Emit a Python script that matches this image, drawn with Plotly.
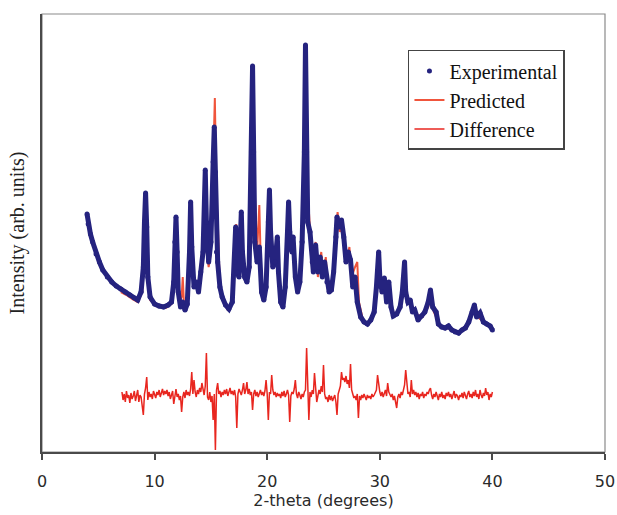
import numpy as np
import plotly.graph_objects as go

# experimental pattern (2-theta in degrees, intensity in arb. units)
exp_tth = [4.0, 4.1, 4.3, 4.5, 4.8, 5.1, 5.4, 5.8, 6.2, 6.6, 7.0, 7.4, 7.8, 8.2, 8.5, 8.8,
           9.0, 9.1, 9.2, 9.3, 9.4, 9.6, 10.0, 10.4, 10.8, 11.2, 11.5, 11.7, 11.8, 11.9,
           12.0, 12.1, 12.3, 12.5, 12.7, 12.9, 13.1, 13.2, 13.3, 13.5, 13.7, 13.9, 14.1,
           14.3, 14.5, 14.6, 14.8, 15.0, 15.2, 15.3, 15.4, 15.5, 15.6, 15.8, 16.0, 16.3,
           16.6, 16.9, 17.1, 17.2, 17.3, 17.5, 17.7, 17.8, 18.0, 18.2, 18.4, 18.6, 18.7,
           18.8, 18.9, 19.1, 19.3, 19.5, 19.7, 19.9, 20.1, 20.2, 20.3, 20.5, 20.7, 20.9,
           21.0, 21.2, 21.4, 21.6, 21.8, 21.9, 22.0, 22.2, 22.3, 22.5, 22.7, 22.9, 23.1,
           23.3, 23.4, 23.5, 23.6, 23.8, 24.0, 24.1, 24.3, 24.5, 24.7, 24.9, 25.1, 25.3,
           25.5, 25.7, 25.9, 26.1, 26.2, 26.4, 26.6, 26.8, 27.0, 27.2, 27.4, 27.6, 27.8,
           28.0, 28.3, 28.6, 28.9, 29.2, 29.5, 29.7, 29.9, 30.0, 30.2, 30.4, 30.6, 30.8,
           31.0, 31.2, 31.5, 31.8, 32.0, 32.2, 32.3, 32.5, 32.7, 32.9, 33.1, 33.4, 33.7,
           34.0, 34.3, 34.5, 34.7, 35.0, 35.2, 35.5, 35.8, 36.1, 36.4, 36.7, 37.0, 37.3,
           37.6, 37.9, 38.2, 38.4, 38.6, 38.9, 39.2, 39.5, 39.8, 40.0]
exp_int = [238, 228, 218, 210, 198, 190, 182, 175, 170, 166, 163, 160, 157, 154, 152, 160,
           185, 230, 259, 225, 175, 155, 148, 146, 145, 147, 150, 170, 210, 235,
           200, 160, 145, 150, 142, 148, 200, 250, 205, 165, 170, 160, 180,
           200, 282, 230, 190, 210, 290, 325, 280, 200, 190, 165, 155, 147,
           143, 150, 190, 225, 180, 175, 240, 200, 175, 170, 185, 300, 386,
           300, 210, 190, 205, 160, 152, 165, 230, 262, 220, 185, 190, 215,
           180, 150, 145, 165, 220, 250, 220, 200, 215, 175, 160, 170, 210,
           300, 407, 300, 230, 220, 190, 180, 207, 180, 195, 175, 190, 170,
           160, 162, 180, 215, 235, 225, 232, 215, 190, 200, 192, 165, 175,
           150, 135, 130, 128, 132, 140, 165, 200, 175, 160, 174, 150, 170,
           145, 136, 138, 145, 160, 190, 160, 150, 152, 140, 142, 132, 136,
           140, 150, 162, 145, 140, 128, 125, 124, 126, 122, 120, 119, 122,
           124, 130, 140, 147, 135, 139, 130, 128, 126, 122]

# predicted (calculated) pattern
pred_tth = [7.0, 7.5, 8.0, 8.5, 8.9, 9.1, 9.25, 9.4, 9.6, 10.2, 11.0, 11.5, 11.7, 11.9,
            12.05, 12.2, 12.4, 12.5, 12.6, 12.9, 13.1, 13.25, 13.4, 13.7, 14.0, 14.3,
            14.45, 14.6, 14.8, 15.0, 15.2, 15.35, 15.5, 15.6, 15.75, 16.0, 16.5, 16.9,
            17.1, 17.25, 17.4, 17.6, 17.75, 17.9, 18.2, 18.5, 18.75, 18.9, 19.1, 19.3,
            19.45, 19.7, 20.0, 20.2, 20.35, 20.6, 20.9, 21.1, 21.4, 21.7, 21.9, 22.05,
            22.3, 22.5, 22.8, 23.1, 23.3, 23.45, 23.6, 23.8, 24.0, 24.3, 24.5, 24.8,
            25.0, 25.2, 25.4, 25.7, 26.0, 26.25, 26.45, 26.7, 26.9, 27.1, 27.3, 27.5,
            27.8, 28.0, 28.15, 28.5, 29.0, 29.5, 29.7, 29.9, 30.1, 30.4, 30.6, 30.8,
            31.1, 31.6, 32.0, 32.2, 32.4, 32.8, 33.2, 33.8, 34.3, 34.5, 34.8, 35.3,
            36.0, 37.0, 37.8, 38.2, 38.4, 38.7, 39.2, 40.0]
pred_int = [160, 157, 153, 150, 160, 210, 245, 180, 152, 146, 144, 148, 175, 236,
            190, 150, 155, 175, 150, 148, 195, 240, 180, 165, 175, 210,
            215, 200, 185, 200, 300, 354, 250, 235, 180, 152, 142, 150,
            185, 228, 180, 200, 215, 185, 170, 220, 386, 260, 200, 247,
            180, 150, 200, 242, 200, 185, 205, 170, 143, 180, 252, 200,
            210, 170, 160, 200, 300, 355, 260, 225, 185, 210, 175, 200,
            175, 195, 165, 160, 200, 240, 220, 230, 205, 195, 205, 175,
            185, 190, 150, 132, 128, 138, 160, 190, 165, 170, 150, 165,
            140, 138, 155, 180, 155, 148, 138, 135, 145, 155, 140, 127,
            124, 120, 128, 138, 142, 135, 130, 123]

# difference curve (offset below the patterns), one value every 0.1 deg from 7.1 to 40.0
diff_int = [60, 52, 58, 50, 61, 54, 57, 49, 59, 53,
            56, 61, 51, 58, 62, 50, 57, 55, 48, 37,
            58, 64, 75, 52, 60, 55, 58, 53, 61, 56,
            54, 60, 57, 62, 55, 59, 63, 57, 61, 58,
            62, 56, 60, 53, 58, 61, 48, 57, 63, 55,
            58, 52, 56, 40, 55, 60, 54, 62, 57, 60,
            56, 63, 80, 58, 72, 60, 55, 62, 58, 64,
            60, 69, 62, 57, 66, 99, 55, 52, 60, 50,
            56, 32, 58, 2, 62, 69, 58, 61, 55, 60,
            57, 62, 58, 63, 56, 60, 64, 58, 61, 57,
            62, 55, 24, 58, 63, 60, 57, 62, 69, 58,
            62, 70, 58, 63, 57, 60, 42, 58, 62, 56,
            60, 55, 59, 62, 57, 60, 56, 61, 72, 58,
            32, 60, 58, 77, 62, 57, 60, 55, 59, 56,
            58, 54, 60, 56, 61, 55, 58, 62, 57, 30,
            56, 60, 58, 63, 72, 58, 54, 60, 57, 53,
            58, 55, 60, 62, 104, 58, 32, 60, 55, 62,
            58, 79, 60, 50, 56, 62, 58, 66, 60, 87,
            58, 53, 55, 50, 57, 52, 56, 51, 54, 57,
            50, 37, 58, 62, 66, 80, 72, 74, 70, 76,
            68, 72, 64, 88, 62, 58, 54, 56, 52, 58,
            34, 56, 52, 57, 54, 58, 55, 52, 57, 54,
            56, 53, 58, 55, 57, 60, 62, 77, 66, 60,
            56, 60, 55, 58, 62, 56, 69, 60, 57, 55,
            58, 52, 56, 50, 44, 55, 58, 54, 60, 57,
            62, 67, 82, 65, 58, 60, 55, 72, 58, 62,
            57, 60, 55, 59, 53, 58, 56, 60, 54, 58,
            56, 60, 58, 62, 64, 57, 53, 58, 55, 60,
            57, 52, 58, 55, 60, 54, 57, 53, 59, 56,
            60, 55, 58, 53, 57, 61, 54, 58, 56, 52,
            57, 55, 59, 54, 60, 56, 53, 58, 61, 55,
            58, 54, 60, 56, 62, 55, 58, 53, 62, 57,
            54, 59, 56, 64, 57, 60, 52, 58, 55, 60]
diff_tth = np.round(7.1 + 0.1 * np.arange(len(diff_int)), 1)

x_ticks = [0, 10, 20, 30, 40, 50]

navy = "#25237f"
pred_red = "#f0553c"
diff_red = "#e8261f"

fig = go.Figure()

fig.add_trace(go.Scatter(x=pred_tth, y=pred_int, mode="lines", name="Predicted",
                         line=dict(color=pred_red, width=2), legendrank=2,
                         legendgroup="p"))
fig.add_trace(go.Scatter(x=exp_tth, y=exp_int, mode="lines", showlegend=False,
                         line=dict(color=navy, width=5), legendgroup="e"))
fig.add_trace(go.Scatter(x=exp_tth, y=exp_int, mode="markers", name="Experimental",
                         marker=dict(color=navy, size=5), legendrank=1,
                         legendgroup="e"))
fig.add_trace(go.Scatter(x=diff_tth, y=diff_int, mode="lines", name="Difference",
                         line=dict(color=diff_red, width=1.5), legendrank=3,
                         legendgroup="d"))

fig.update_layout(
    width=617, height=515,
    margin=dict(l=42, r=12, t=14, b=63, autoexpand=False),
    plot_bgcolor="white", paper_bgcolor="white",
    showlegend=True,
    legend=dict(x=0.65, y=0.918, xanchor="left", yanchor="top",
                bgcolor="white", bordercolor="#444", borderwidth=1.5,
                font=dict(family="Liberation Serif", size=20, color="#111"),
                tracegroupgap=13, traceorder="normal"),
    shapes=[dict(type="rect", xref="paper", yref="paper", x0=0, x1=1, y0=0, y1=1,
                 line=dict(color="#8a8a8a", width=1.2), layer="below")],
)

fig.update_xaxes(range=[0, 50], tickvals=x_ticks, showgrid=False, zeroline=False,
                 showline=True, linecolor="#4a4a4a", linewidth=2, automargin=False,
                 ticks="outside", ticklen=6, tickcolor="#4a4a4a", tickwidth=1.5,
                 ticklabelstandoff=8,
                 tickfont=dict(family="DejaVu Sans", size=16, color="#2a2a2a"),
                 title=dict(text="2-theta (degrees)", standoff=0,
                            font=dict(family="DejaVu Sans", size=16, color="#2a2a2a")))
fig.update_yaxes(range=[0, 438], showticklabels=False, ticks="", showgrid=False,
                 zeroline=False, showline=True, linecolor="#4a4a4a", linewidth=2,
                 automargin=False,
                 title=dict(text="Intensity (arb. units)", standoff=10,
                            font=dict(family="Liberation Serif", size=20, color="#222")))

# drop the default page margin so the figure fills the window exactly
fig.write_html("out.html", config={"displayModeBar": False},
               post_script="document.body.style.margin='0';document.body.style.overflow='hidden';")
